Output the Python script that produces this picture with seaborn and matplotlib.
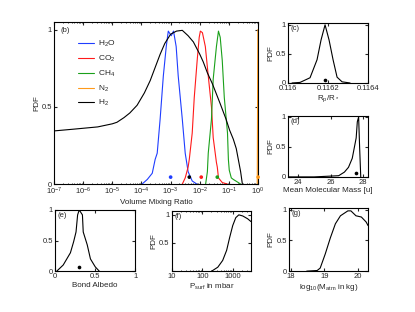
import numpy as np
import matplotlib
matplotlib.use("Agg")
import matplotlib.pyplot as plt
from matplotlib.ticker import LogLocator, FormatStrFormatter, NullFormatter
import seaborn as sns

# (b) marginal PDFs of the volume mixing ratios (x given as log10 VMR)
h2o_log = [-3.98, -3.8, -3.63, -3.53, -3.46, -3.36, -3.25, -3.15, -3.08, -2.98,
           -2.9, -2.81, -2.74, -2.6, -2.5, -2.4, -2.26, -2.1]
h2o_pdf = [0.0, 0.03, 0.07, 0.16, 0.2, 0.42, 0.7, 0.89, 0.99, 0.96,
           0.99, 0.89, 0.7, 0.42, 0.2, 0.08, 0.02, 0.0]

co2_log = [-2.6, -2.5, -2.4, -2.36, -2.26, -2.19, -2.09, -2.02, -1.98, -1.91,
           -1.81, -1.71, -1.6, -1.54, -1.43, -1.4, -1.36, -1.23, -1.05]
co2_pdf = [0.0, 0.04, 0.11, 0.16, 0.33, 0.56, 0.8, 0.95, 0.99, 0.98,
           0.89, 0.7, 0.5, 0.3, 0.14, 0.11, 0.04, 0.01, 0.0]

ch4_log = [-1.8, -1.74, -1.71, -1.6, -1.54, -1.43, -1.36, -1.3, -1.23, -1.16,
           -1.05, -1.02, -0.99, -0.92, -0.85, -0.68, -0.6]
ch4_pdf = [0.0, 0.08, 0.2, 0.42, 0.68, 0.89, 0.99, 0.95, 0.8, 0.56,
           0.33, 0.16, 0.09, 0.04, 0.03, 0.01, 0.0]

n2_log = [-0.03, -0.01, 0.0]
n2_pdf = [0.0, 1.0, 1.0]

h2_log = [-7.0, -6.35, -5.5, -5.0, -4.84, -4.6, -4.4, -4.15, -3.9, -3.7, -3.5,
          -3.36, -3.2, -3.0, -2.8, -2.6, -2.4, -2.22, -2.0, -1.88, -1.74,
          -1.57, -1.3, -1.1, -0.98, -0.85, -0.75, -0.68, -0.6, -0.54]
h2_pdf = [0.344, 0.355, 0.37, 0.39, 0.40, 0.43, 0.46, 0.51, 0.59, 0.67, 0.77,
          0.84, 0.91, 0.97, 0.99, 0.995, 0.96, 0.92, 0.84, 0.79, 0.72,
          0.65, 0.52, 0.42, 0.35, 0.29, 0.23, 0.16, 0.08, 0.0]

true_log = [-3.0, -2.36, -1.95, -1.4, 0.0]
true_pdf = [0.045, 0.045, 0.045, 0.045, 0.045]

# (c) planet-to-star radius ratio
rp_x = [0.11602, 0.11606, 0.11611, 0.116145, 0.116165, 0.116185, 0.116205,
        0.116225, 0.116245, 0.11627, 0.11631]
rp_pdf = [0.0, 0.01, 0.09, 0.4, 0.74, 1.0, 0.74, 0.4, 0.1, 0.02, 0.0]
rp_true = 0.116185

# (d) mean molecular mass
mmm_x = [23.4, 25.0, 26.5, 26.85, 27.1, 27.33, 27.57, 27.64, 27.72, 27.78, 27.85]
mmm_pdf = [0.0, 0.0, 0.02, 0.08, 0.16, 0.31, 0.65, 0.92, 1.0, 0.5, 0.0]
mmm_true = 27.57

# (e) Bond albedo
alb_x = [0.02, 0.1, 0.19, 0.23, 0.26, 0.28, 0.3, 0.34, 0.35, 0.4, 0.44, 0.5, 0.55]
alb_pdf = [0.0, 0.1, 0.3, 0.48, 0.64, 0.92, 1.0, 0.92, 0.64, 0.43, 0.2, 0.07, 0.0]
alb_true = 0.3

# (f) surface pressure in mbar (log10)
psurf_log = [2.31, 2.51, 2.67, 2.8, 2.9, 3.0, 3.1, 3.2, 3.33, 3.49, 3.6]
psurf_pdf = [0.0, 0.07, 0.19, 0.37, 0.6, 0.81, 0.95, 1.0, 0.98, 0.93, 0.88]

# (g) log10 atmospheric mass
matm_x = [18.48, 18.79, 18.88, 19.03, 19.18, 19.33, 19.48, 19.7, 19.79, 19.94,
          20.1, 20.24, 20.3]
matm_pdf = [0.0, 0.01, 0.05, 0.28, 0.54, 0.77, 0.9, 0.98, 0.98, 0.9,
            0.88, 0.8, 0.74]

sns.set_style("ticks")
plt.rcParams["font.family"] = ["Liberation Sans", "DejaVu Sans"]
plt.rcParams.update({
    "font.size": 5.5,
    "mathtext.default": "regular",
    "xtick.direction": "in", "ytick.direction": "in",
    "xtick.top": True, "ytick.right": True,
    "xtick.major.size": 2, "ytick.major.size": 2,
    "xtick.minor.size": 1, "ytick.minor.size": 1,
    "xtick.major.pad": 1.5, "ytick.major.pad": 1.5,
    "xtick.labelsize": 5.5, "ytick.labelsize": 5.5,
    "axes.labelsize": 5.8, "axes.linewidth": 0.8,
    "axes.edgecolor": "black", "axes.labelpad": 1,
})

fig = plt.figure(figsize=(4.15, 3.12), dpi=100)
ax_b = fig.add_axes([0.130, 0.410, 0.492, 0.520])
ax_c = fig.add_axes([0.694, 0.734, 0.193, 0.192])
ax_d = fig.add_axes([0.694, 0.433, 0.193, 0.196])
ax_e = fig.add_axes([0.133, 0.131, 0.193, 0.196])
ax_f = fig.add_axes([0.414, 0.131, 0.191, 0.193])
ax_g = fig.add_axes([0.696, 0.131, 0.191, 0.203])

lw = 0.8
cols = {"H$_2$O": "#1f3dff", "CO$_2$": "#ff1a1a", "CH$_4$": "#1aa01a",
        "N$_2$": "#ff9a1a", "H$_2$": "black"}
series = [("H$_2$O", h2o_log, h2o_pdf), ("CO$_2$", co2_log, co2_pdf),
          ("CH$_4$", ch4_log, ch4_pdf), ("N$_2$", n2_log, n2_pdf),
          ("H$_2$", h2_log, h2_pdf)]
for name, xs, ys in series:
    sns.lineplot(x=10 ** np.array(xs), y=ys, ax=ax_b, color=cols[name], lw=lw,
                 label=name, sort=False, estimator=None)
dot_cols = ["#1f3dff", "black", "#ff1a1a", "#1aa01a", "#ff9a1a"]
sns.scatterplot(x=10 ** np.array(true_log), y=true_pdf, ax=ax_b, color=dot_cols,
                s=7, linewidth=0, zorder=5, clip_on=False)
ax_b.set_xscale("log")
ax_b.set_xlim(1e-7, 1)
ax_b.set_ylim(0, 1.05)
ax_b.xaxis.set_major_locator(LogLocator(base=10, numticks=20))
ax_b.xaxis.set_minor_locator(LogLocator(base=10, subs=np.arange(2, 10), numticks=20))
ax_b.xaxis.set_minor_formatter(NullFormatter())
ax_b.set_xlabel("Volume Mixing Ratio")
ax_b.set_ylabel("PDF")
ax_b.legend(loc="upper left", bbox_to_anchor=(0.08, 0.94), frameon=False,
            fontsize=6, handlelength=2.0, handletextpad=0.4, labelspacing=0.55)

sns.lineplot(x=rp_x, y=rp_pdf, ax=ax_c, color="black", lw=lw, sort=False, estimator=None)
sns.scatterplot(x=[rp_true], y=[0.05], ax=ax_c, color="black", s=7, linewidth=0)
ax_c.set_xlim(0.116, 0.1164)
ax_c.set_ylim(0, 1.03)
ax_c.set_xticks([0.116, 0.1162, 0.1164])
ax_c.xaxis.set_major_formatter(FormatStrFormatter("%g"))
ax_c.set_xlabel("R$_p$/R$_*$")
ax_c.set_ylabel("PDF")

sns.lineplot(x=mmm_x, y=mmm_pdf, ax=ax_d, color="black", lw=lw, sort=False, estimator=None)
sns.scatterplot(x=[mmm_true], y=[0.06], ax=ax_d, color="black", s=7, linewidth=0)
ax_d.set_xlim(23.4, 28.3)
ax_d.set_ylim(0, 1.02)
ax_d.set_xticks([24, 26, 28])
ax_d.set_xlabel("Mean Molecular Mass [u]")
ax_d.set_ylabel("PDF")

sns.lineplot(x=alb_x, y=alb_pdf, ax=ax_e, color="black", lw=lw, sort=False, estimator=None)
sns.scatterplot(x=[alb_true], y=[0.07], ax=ax_e, color="black", s=7, linewidth=0)
ax_e.set_xlim(0, 1)
ax_e.set_ylim(0, 1.0)
ax_e.set_xticks([0, 0.5, 1])
ax_e.xaxis.set_major_formatter(FormatStrFormatter("%g"))
ax_e.set_xlabel("Bond Albedo")

sns.lineplot(x=10 ** np.array(psurf_log), y=psurf_pdf, ax=ax_f, color="black", lw=lw,
             sort=False, estimator=None)
ax_f.set_xscale("log")
ax_f.set_xlim(10, 4000)
ax_f.set_ylim(0, 1.07)
ax_f.set_xticks([10, 100, 1000])
ax_f.xaxis.set_major_formatter(FormatStrFormatter("%g"))
ax_f.xaxis.set_minor_formatter(NullFormatter())
ax_f.set_xlabel("P$_{surf}$ in mbar")
ax_f.set_ylabel("PDF")

sns.lineplot(x=matm_x, y=matm_pdf, ax=ax_g, color="black", lw=lw, sort=False, estimator=None)
ax_g.set_xlim(17.95, 20.3)
ax_g.set_ylim(0, 1.03)
ax_g.set_xticks([18, 19, 20])
ax_g.set_xlabel("log$_{10}$(M$_{atm}$ in kg)")
ax_g.set_ylabel("PDF")

for ax, tag in [(ax_b, "(b)"), (ax_c, "(c)"), (ax_d, "(d)"), (ax_e, "(e)"),
                (ax_f, "(f)"), (ax_g, "(g)")]:
    ax.set_yticks([0, 0.5, 1])
    ax.yaxis.set_major_formatter(FormatStrFormatter("%g"))
    ax.text(0.03, 0.97, tag, transform=ax.transAxes, va="top", ha="left", fontsize=5.5)
    for s in ax.spines.values():
        s.set_visible(True)

# panel (f) shows no label at the zero tick
ax_f.set_yticklabels(["", "0.5", "1"])

fig.savefig("out.png", dpi=100)
